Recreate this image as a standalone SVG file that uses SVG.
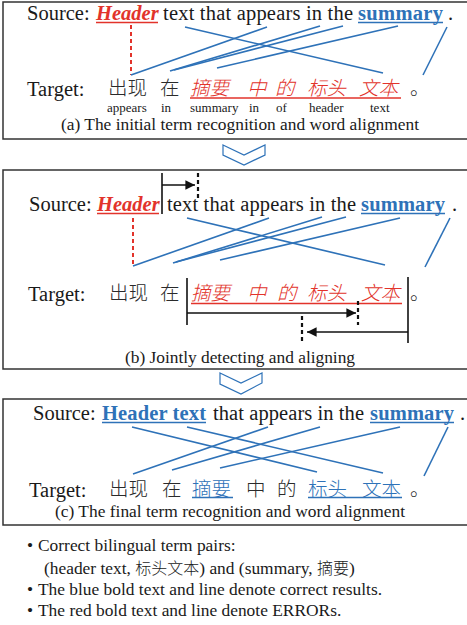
<svg xmlns="http://www.w3.org/2000/svg" width="467" height="625" viewBox="0 0 467 625">
<style>
.t{font-family:"Liberation Serif","Times New Roman",serif;fill:#1a1a1a}
.src{font-size:20.5px}
.cap{font-size:17.4px}
.gl{font-size:13px}
.cjk{font-family:"Noto Sans CJK SC","Liberation Serif",sans-serif;font-size:19.5px;fill:#2a2a2a;font-weight:300}
.cj2{font-family:"Noto Sans CJK SC",sans-serif;font-weight:300;font-size:16px}
.red{fill:#e2332b}
.blue{fill:#2e72b8}
.bold{font-weight:bold}
.it{font-style:italic}
.frame{fill:none;stroke:#333;stroke-width:1.5}
.al{stroke:#2e72b8;stroke-width:1.6;fill:none}
.rd{stroke:#e2332b;stroke-width:2;stroke-dasharray:4 3;fill:none}
.ul-r{stroke:#e2332b;stroke-width:1.3}
.ul-b{stroke:#2e72b8;stroke-width:1.6}
.bk{stroke:#111;stroke-width:1.6;fill:none}
.bkd{stroke:#111;stroke-width:2.2;stroke-dasharray:4 3;fill:none}
.chev{fill:#fff;stroke:#2e72b8;stroke-width:1.2}
</style>
<defs>
<marker id="ah" viewBox="0 0 10 10" refX="10" refY="5" markerWidth="6" markerHeight="6" orient="auto" markerUnits="strokeWidth"><path d="M0,0 L10,5 L0,10 z" fill="#111"/></marker>
</defs>

<!-- Panel (a) -->
<g id="panel-a">
<rect class="frame" x="3" y="2" width="470" height="137"/>
<text class="t src" x="27" y="20">Source:</text>
<text class="t src red bold it" x="96" y="20">Header</text>
<text class="t src" x="163" y="20" textLength="190" lengthAdjust="spacing">text that appears in the</text>
<text class="t src blue bold" x="358" y="20" textLength="85" lengthAdjust="spacing">summary</text>
<text class="t src" x="448" y="20">.</text>
<line class="ul-r" x1="96" y1="22.5" x2="158" y2="22.5"/>
<line class="ul-b" x1="358" y1="22.5" x2="443" y2="22.5"/>
<text class="t src" x="27" y="96">Target:</text>
<text class="cjk" x="108" y="95">出现</text>
<text class="cjk" x="160" y="95">在</text>
<text class="cjk red it" x="190" y="95">摘要</text>
<text class="cjk red it" x="247" y="95">中</text>
<text class="cjk red it" x="275" y="95">的</text>
<text class="cjk red it" x="307" y="95">标头</text>
<text class="cjk red it" x="359" y="95">文本</text>
<text class="cjk" x="410" y="95">。</text>
<line class="ul-r" x1="190" y1="98" x2="401" y2="98"/>
<text class="t gl" x="107" y="111.5">appears</text>
<text class="t gl" x="161" y="111.5">in</text>
<text class="t gl" x="190" y="111.5">summary</text>
<text class="t gl" x="249" y="111.5">in</text>
<text class="t gl" x="276" y="111.5">of</text>
<text class="t gl" x="309" y="111.5">header</text>
<text class="t gl" x="370" y="111.5">text</text>
<text class="t cap" x="61" y="130" textLength="358" lengthAdjust="spacing">(a) The initial term recognition and word alignment</text>
</g>

<g id="arrow-ab"><polygon class="chev" points="223,145 244,155 265,145 265,155 244,165 223,155"/></g>

<!-- Panel (b) -->
<g id="panel-b">
<rect class="frame" x="3" y="170" width="470" height="199"/>
<text class="t src" x="29" y="211">Source:</text>
<text class="t src red bold it" x="97" y="211">Header</text>
<text class="t src" x="167" y="211" textLength="189" lengthAdjust="spacing">text that appears in the</text>
<text class="t src blue bold" x="361" y="211" textLength="84" lengthAdjust="spacing">summary</text>
<text class="t src" x="452" y="211">.</text>
<line class="ul-r" x1="97" y1="213.5" x2="159" y2="213.5"/>
<line class="ul-b" x1="361" y1="213.5" x2="445" y2="213.5"/>
<line class="bk" x1="162" y1="173" x2="162" y2="214"/>
<line class="bk" x1="162" y1="185" x2="195" y2="185" marker-end="url(#ah)"/>
<line class="bkd" x1="198" y1="173" x2="198" y2="201"/>
<text class="t src" x="28" y="301">Target:</text>
<text class="cjk" x="109" y="300">出现</text>
<text class="cjk" x="160" y="300">在</text>
<text class="cjk red it" x="191" y="300">摘要</text>
<text class="cjk red it" x="247" y="300">中</text>
<text class="cjk red it" x="277" y="300">的</text>
<text class="cjk red it" x="307" y="300">标头</text>
<text class="cjk red it" x="361" y="300">文本</text>
<text class="cjk" x="410" y="300">。</text>
<line class="ul-r" x1="191" y1="303.5" x2="402" y2="303.5"/>
<line class="bk" x1="187" y1="278" x2="187" y2="325"/>
<line class="bk" x1="187" y1="313" x2="356" y2="313" marker-end="url(#ah)"/>
<line class="bkd" x1="358" y1="301" x2="358" y2="325"/>
<line class="bk" x1="408" y1="277" x2="408" y2="343"/>
<line class="bk" x1="408" y1="332" x2="307" y2="332" marker-end="url(#ah)"/>
<line class="bkd" x1="302" y1="316" x2="302" y2="344"/>
<text class="t cap" x="125" y="363" textLength="230" lengthAdjust="spacing">(b) Jointly detecting and aligning</text>
</g>

<g id="arrow-bc"><polygon class="chev" points="220,373 241,383 262,373 262,383 241,394 220,384"/></g>

<!-- Panel (c) -->
<g id="panel-c">
<rect class="frame" x="3" y="399" width="470" height="126"/>
<text class="t src" x="33" y="420">Source:</text>
<text class="t src blue bold" x="102" y="420" textLength="104" lengthAdjust="spacing">Header text</text>
<text class="t src" x="213" y="420" textLength="151" lengthAdjust="spacing">that appears in the</text>
<text class="t src blue bold" x="370" y="420" textLength="84" lengthAdjust="spacing">summary</text>
<text class="t src" x="460" y="420">.</text>
<line class="ul-b" x1="102" y1="422.5" x2="206" y2="422.5"/>
<line class="ul-b" x1="370" y1="422.5" x2="454" y2="422.5"/>
<text class="t src" x="29" y="497">Target:</text>
<text class="cjk" x="109" y="496">出现</text>
<text class="cjk" x="162" y="496">在</text>
<text class="cjk blue" x="192" y="496">摘要</text>
<text class="cjk" x="246" y="496">中</text>
<text class="cjk" x="277" y="496">的</text>
<text class="cjk blue" x="308" y="496">标头</text>
<text class="cjk blue" x="362" y="496">文本</text>
<text class="cjk" x="410" y="496">。</text>
<line class="ul-b" x1="192" y1="497.5" x2="233" y2="497.5" stroke-width="1.2"/>
<line class="ul-b" x1="308" y1="497.5" x2="402" y2="497.5" stroke-width="1.2"/>
<text class="t cap" x="55" y="517" textLength="350" lengthAdjust="spacing">(c) The final term recognition and word alignment</text>
</g>

<!-- Alignment connectors -->
<g id="connectors">
<line class="rd" x1="131" y1="25" x2="131" y2="75"/>
<line class="al" x1="185" y1="27" x2="383" y2="73"/>
<line class="al" x1="267" y1="27" x2="131" y2="75"/>
<line class="al" x1="320" y1="26" x2="170" y2="71"/>
<line class="al" x1="343" y1="26" x2="174" y2="70"/>
<line class="al" x1="398" y1="26" x2="217" y2="68"/>
<line class="al" x1="447" y1="27" x2="423" y2="75"/>

<line class="rd" x1="133" y1="218" x2="133" y2="266"/>
<line class="al" x1="187" y1="218" x2="385" y2="265"/>
<line class="al" x1="269" y1="218" x2="133" y2="266"/>
<line class="al" x1="322" y1="217" x2="173" y2="263"/>
<line class="al" x1="346" y1="217" x2="176" y2="262"/>
<line class="al" x1="400" y1="218" x2="220" y2="260"/>
<line class="al" x1="450" y1="218" x2="425" y2="267"/>

<line class="al" x1="132" y1="427" x2="317" y2="472"/>
<line class="al" x1="187" y1="427" x2="383" y2="473"/>
<line class="al" x1="268" y1="427" x2="133" y2="474"/>
<line class="al" x1="320" y1="427" x2="172" y2="470"/>
<line class="al" x1="400" y1="427" x2="220" y2="468"/>
<line class="al" x1="448" y1="427" x2="424" y2="476"/>
</g>

<!-- Notes -->
<g id="notes">
<text class="t cap" x="27" y="551">•</text>
<text class="t cap" x="38" y="551">Correct bilingual term pairs:</text>
<text class="t cap" x="44" y="574">(header text, <tspan class="cj2">标头文本</tspan>) and (summary, <tspan class="cj2">摘要</tspan>)</text>
<text class="t cap" x="27" y="595">•</text>
<text class="t cap" x="38" y="595" textLength="344" lengthAdjust="spacing">The blue bold text and line denote correct results.</text>
<text class="t cap" x="27" y="616">•</text>
<text class="t cap" x="38" y="616">The red bold text and line denote ERRORs.</text>
</g>
</svg>
